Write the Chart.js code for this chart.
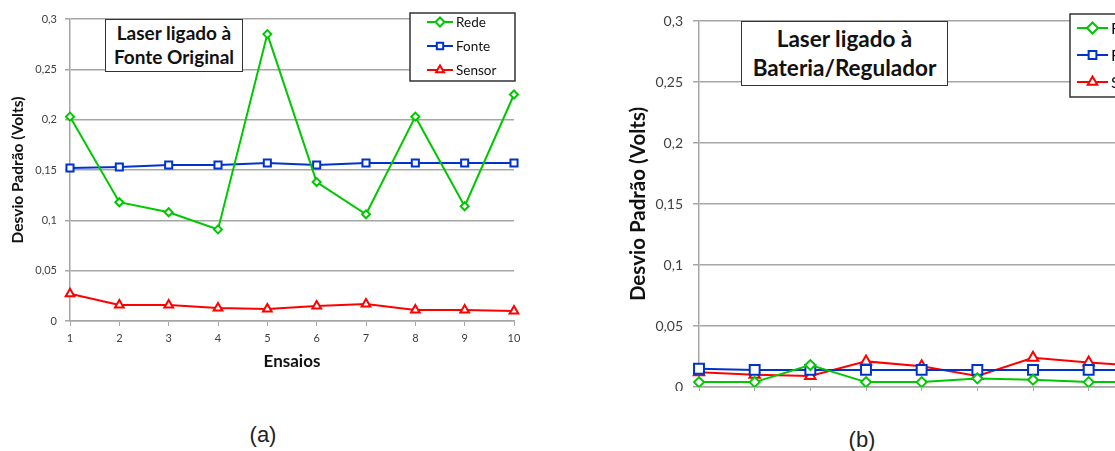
<!DOCTYPE html>
<html>
<head>
<meta charset="utf-8">
<script src="https://cdn.jsdelivr.net/npm/chart.js@4"></script>
<style>
  html, body { margin: 0; padding: 0; background: #fff; }
  body { width: 1115px; height: 451px; position: relative; overflow: hidden; font-family: Lato, "Open Sans", sans-serif; }
  #wrapA { position: absolute; left: 0; top: 0; }
  #wrapB { position: absolute; left: 600px; top: 0; width: 515px; height: 391px; overflow: hidden; }
  .titleBox {
    position: absolute; box-sizing: border-box; background: #fff;
    border: 1.5px solid #333; font-weight: bold; color: #111; text-align: center; white-space: nowrap;
  }
  #titleA { left: 105px; top: 19px; width: 138px; height: 53px; font-size: 19px; line-height: 24px; padding-top: 1px; }
  #titleB { left: 741px; top: 21px; width: 207px; height: 65px; font-size: 22.5px; line-height: 29px; padding-top: 2px; }
  .cap { position: absolute; font-family: "Liberation Sans", Arial, sans-serif; font-size: 22px; color: #222; transform: translateX(-50%); }
</style>
</head>
<body>
<div id="wrapA"><canvas id="chartA" width="540" height="376"></canvas></div>
<div id="wrapB"><canvas id="chartB" width="620" height="437"></canvas></div>
<div class="titleBox" id="titleA">Laser ligado à<br>Fonte Original</div>
<div class="titleBox" id="titleB">Laser ligado à<br>Bateria/Regulador</div>
<div class="cap" style="left:263px; top:422px;">(a)</div>
<div class="cap" style="left:862px; top:427px;">(b)</div>
<script>
// data
const ensaios = ['1', '2', '3', '4', '5', '6', '7', '8', '9', '10'];
const seriesNames = ['Rede', 'Fonte', 'Sensor'];

const redeA = [0.203, 0.118, 0.108, 0.091, 0.285, 0.138, 0.106, 0.203, 0.114, 0.225];
const fonteA = [0.152, 0.153, 0.155, 0.155, 0.157, 0.155, 0.157, 0.157, 0.157, 0.157];
const sensorA = [0.027, 0.016, 0.016, 0.013, 0.012, 0.015, 0.017, 0.011, 0.011, 0.010];

const redeB = [0.004, 0.004, 0.018, 0.004, 0.004, 0.007, 0.006, 0.004, 0.004, 0.004];
const fonteB = [0.015, 0.014, 0.014, 0.014, 0.014, 0.014, 0.014, 0.014, 0.014, 0.014];
const sensorB = [0.012, 0.010, 0.009, 0.021, 0.017, 0.009, 0.024, 0.020, 0.017, 0.015];

const colors = ['#00c800', '#0033cc', '#ff0000'];
const markers = ['rectRot', 'rect', 'triangle'];
const gridColor = '#a6a6a6';

// draws the boxed legend inside the plot, like the original
const boxLegend = {
  id: 'boxLegend',
  afterDraw(chart, args, o) {
    const ctx = chart.ctx;
    ctx.save();
    ctx.fillStyle = '#fff';
    ctx.fillRect(o.x, o.y, o.w, o.h);
    ctx.strokeStyle = '#333';
    ctx.lineWidth = 1.5;
    ctx.strokeRect(o.x, o.y, o.w, o.h);
    chart.data.datasets.forEach((ds, i) => {
      const y = o.first + i * o.gap;
      ctx.strokeStyle = ds.borderColor;
      ctx.lineWidth = 2;
      ctx.beginPath();
      ctx.moveTo(o.x1, y);
      ctx.lineTo(o.x2, y);
      ctx.stroke();
      ctx.fillStyle = '#fff';
      Chart.helpers.drawPoint(ctx, { pointStyle: ds.pointStyle, radius: o.r, rotation: 0, borderWidth: 2 }, (o.x1 + o.x2) / 2, y);
      ctx.fillStyle = '#111';
      ctx.font = o.font + 'px Lato, sans-serif';
      ctx.textBaseline = 'middle';
      ctx.fillText(ds.label, o.x2 + 3, y + 1);
    });
    ctx.restore();
  }
};

function makeDatasets(values, radius) {
  return values.map((v, i) => ({
    label: seriesNames[i],
    data: v,
    borderColor: colors[i],
    backgroundColor: colors[i],
    borderWidth: 2,
    pointStyle: markers[i],
    pointRadius: radius[i],
    pointBorderWidth: 2,
    pointBackgroundColor: '#fff',
    pointBorderColor: colors[i],
    tension: 0
  }));
}

function commaLabel(v) {
  return String(+v.toFixed(2)).replace('.', ',');
}

function makeChart(id, datasets, s) {
  return new Chart(document.getElementById(id), {
    type: 'line',
    data: { labels: ensaios, datasets: datasets },
    plugins: [boxLegend],
    options: {
      responsive: false,
      animation: false,
      layout: { padding: s.padding },
      plugins: {
        legend: { display: false },
        tooltip: { enabled: false },
        boxLegend: s.legend
      },
      scales: {
        x: {
          type: 'category',
          offset: false,
          afterFit: sc => { sc.height = s.xHeight; },
          grid: { drawOnChartArea: false, drawTicks: true, tickLength: 5, color: gridColor },
          border: { color: gridColor, width: 1.5 },
          ticks: { color: '#404040', font: { family: 'Lato', size: s.tickSize }, padding: 6, maxRotation: 0 },
          title: { display: true, text: 'Ensaios', color: '#111', font: { family: 'Lato', size: 17, weight: 'bold' }, padding: { top: 4, bottom: 4 } }
        },
        y: {
          min: 0, max: 0.3,
          afterFit: sc => { sc.width = s.yWidth; },
          grid: { color: gridColor, lineWidth: 1.5, tickLength: s.tickLen },
          border: { color: gridColor, width: 1.5 },
          ticks: { stepSize: 0.05, color: '#404040', font: { family: 'Lato', size: s.tickSize }, padding: s.tickPad, callback: v => commaLabel(v) },
          title: { display: true, text: 'Desvio Padrão (Volts)', color: '#111', font: { family: 'Lato', size: s.yTitleSize, weight: 'bold' }, padding: { top: 4, bottom: 4 } }
        }
      }
    }
  });
}

makeChart('chartA', makeDatasets([redeA, fonteA, sensorA], [4, 5, 5]), {
  padding: { left: 5, top: 19, right: 26, bottom: 0 },
  xHeight: 55, yWidth: 65, tickSize: 11, tickLen: 5, tickPad: 8, yTitleSize: 15.5,
  legend: { x: 410, y: 13, w: 105, h: 68, first: 22, gap: 24, x1: 427, x2: 453, r: 4.5, font: 13.5 }
});

makeChart('chartB', makeDatasets([redeB, fonteB, sensorB], [5, 7, 6]), {
  padding: { left: 22, top: 21, right: 20, bottom: 0 },
  xHeight: 50, yWidth: 77, tickSize: 14, tickLen: 6, tickPad: 10, yTitleSize: 20.5,
  legend: { x: 470, y: 14, w: 100, h: 83, first: 28, gap: 27, x1: 477, x2: 508, r: 5.5, font: 16 }
});
</script>
</body>
</html>
